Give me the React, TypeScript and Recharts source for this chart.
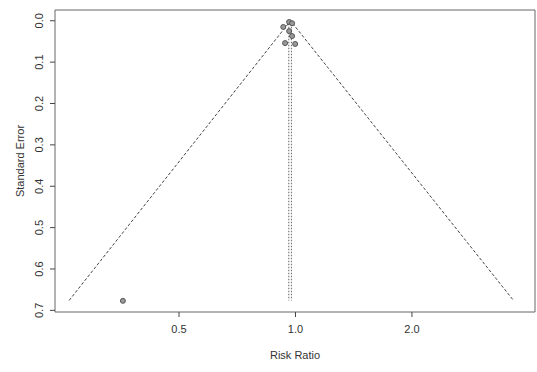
import {
  ScatterChart,
  Scatter,
  XAxis,
  YAxis,
  ReferenceArea,
} from "recharts";

// study estimates (risk ratio) and their standard errors
const riskRatios = [0.358, 0.93, 0.963, 0.98, 0.963, 0.98, 0.94, 0.998];
const standardErrors = [0.677, 0.015, 0.003, 0.006, 0.025, 0.037, 0.054, 0.056];

// pseudo confidence funnel (left end, apex, right end)
const funnelRR = [0.26, 0.971, 3.66];
const funnelSE = [0.676, 0, 0.676];

// pooled estimates (fixed / random)
const fixedRR = 0.961;
const randomRR = 0.976;
const maxSE = 0.676;

const xTicks = [0.5, 1, 2];
const yTicks = [0, 0.1, 0.2, 0.3, 0.4, 0.5, 0.6, 0.7];

const X_DOMAIN: [number, number] = [0.239, 4.16];
const Y_DOMAIN: [number, number] = [-0.026, 0.704];

const studies = riskRatios.map((rr, i) => ({ rr, se: standardErrors[i] }));
const funnel = funnelRR.map((rr, i) => ({ rr, se: funnelSE[i] }));
const fixedLine = [
  { rr: fixedRR, se: 0 },
  { rr: fixedRR, se: maxSE },
];
const randomLine = [
  { rr: randomRR, se: 0 },
  { rr: randomRR, se: maxSE },
];

const FONT = "'Liberation Sans', Arial, sans-serif";
const INK = "#444";

const noDot = () => <g />;

const StudyDot = (props: any) => (
  <circle cx={props.cx} cy={props.cy} r={2.5} fill="#999" stroke="#555" strokeWidth={1} />
);

const YTick = (props: any) => {
  const { x, y, payload } = props;
  const tx = x - 5;
  return (
    <text
      x={tx}
      y={y}
      transform={`rotate(-90, ${tx}, ${y})`}
      textAnchor="middle"
      fontSize={11}
      fontFamily={FONT}
      fill="#333"
    >
      {Number(payload.value).toFixed(1)}
    </text>
  );
};

export default function App() {
  return (
    <div style={{ position: "absolute", left: 0, top: 0, background: "#fff" }}>
      <ScatterChart
        width={537}
        height={372}
        margin={{ top: 10, right: 2, left: 0, bottom: 0 }}
      >
        <XAxis
          type="number"
          dataKey="rr"
          scale="log"
          domain={X_DOMAIN}
          allowDataOverflow
          ticks={xTicks}
          tickFormatter={(v: number) => v.toFixed(1)}
          height={60}
          tickSize={5}
          tickMargin={8}
          axisLine={false}
          tickLine={{ stroke: INK }}
          tick={{ fontSize: 11, fontFamily: FONT, fill: "#333" }}
          label={{
            value: "Risk Ratio",
            position: "insideBottom",
            offset: 13,
            fontSize: 11,
            fontFamily: FONT,
            fill: "#333",
          }}
        />
        <YAxis
          type="number"
          dataKey="se"
          reversed
          domain={Y_DOMAIN}
          allowDataOverflow
          ticks={yTicks}
          width={55}
          tickSize={5}
          axisLine={false}
          tickLine={{ stroke: INK }}
          tick={<YTick />}
          label={{
            value: "Standard Error",
            angle: -90,
            position: "insideLeft",
            offset: 20,
            style: { textAnchor: "middle" },
            fontSize: 11,
            fontFamily: FONT,
            fill: "#333",
          }}
        />
        <ReferenceArea
          x1={X_DOMAIN[0]}
          x2={X_DOMAIN[1]}
          y1={Y_DOMAIN[0]}
          y2={Y_DOMAIN[1]}
          fill="none"
          stroke="#666"
          strokeWidth={1}
        />
        <Scatter
          data={funnel}
          line={{ stroke: INK, strokeDasharray: "3 2", strokeWidth: 1 }}
          shape={noDot}
          isAnimationActive={false}
        />
        <Scatter
          data={fixedLine}
          line={{ stroke: "#666", strokeDasharray: "1.5 1.5", strokeWidth: 1 }}
          shape={noDot}
          isAnimationActive={false}
        />
        <Scatter
          data={randomLine}
          line={{ stroke: "#666", strokeDasharray: "1.5 1.5", strokeWidth: 1 }}
          shape={noDot}
          isAnimationActive={false}
        />
        <Scatter data={studies} shape={<StudyDot />} isAnimationActive={false} />
      </ScatterChart>
    </div>
  );
}
